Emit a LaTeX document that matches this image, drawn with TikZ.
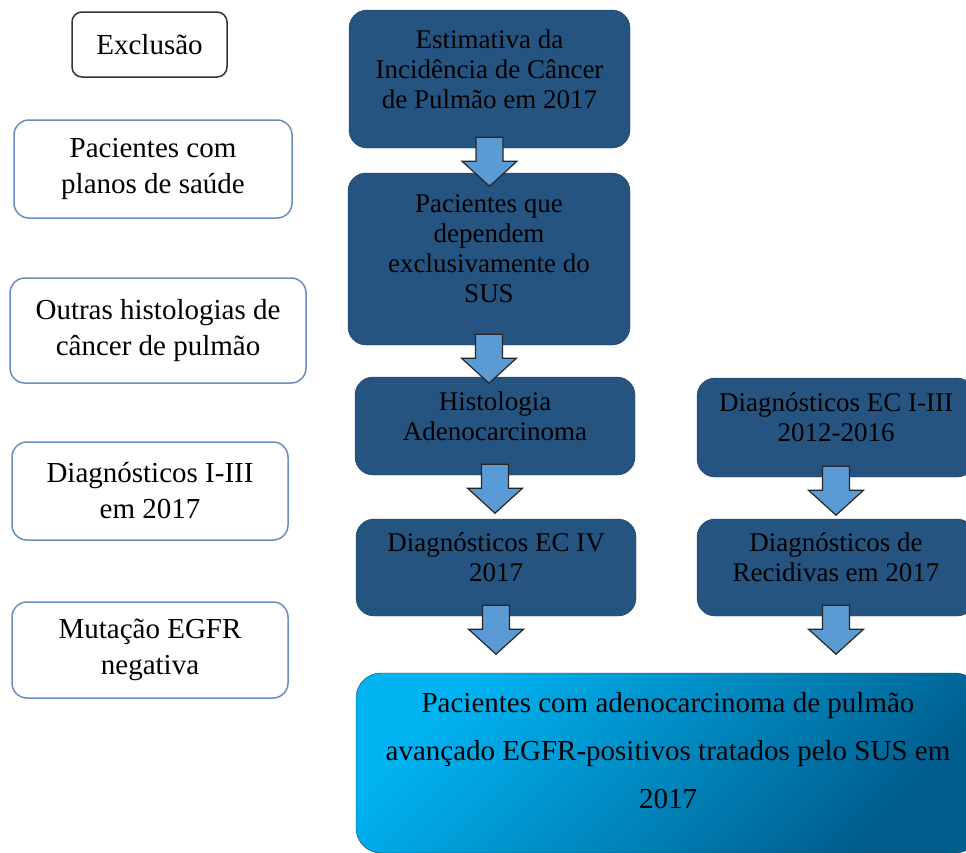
\documentclass[tikz,border=0pt]{standalone}
\usepackage{fontspec}
\setmainfont{Liberation Serif}
\usetikzlibrary{calc}
\definecolor{boxblue}{RGB}{38,84,128}
\definecolor{boxedge}{RGB}{28,60,96}
\definecolor{exedge}{RGB}{104,142,190}
\definecolor{arrowblue}{RGB}{91,155,213}
\definecolor{fimtop}{RGB}{0,180,242}
\definecolor{fimbottom}{RGB}{0,92,140}
\newcommand{\flowarrow}[2]{%
  \coordinate (s) at ($(#1.south)+(0,-11)$);
  \coordinate (t) at ($(s)!49pt!(s |- #2.north)$);
  \draw[blockarrow] ($(s)+(-13.5,0)$) -- ($(t)+(-13.5,-25)$) -- ($(t)+(-27.5,-25)$) -- (t)
    -- ($(t)+(27.5,-25)$) -- ($(t)+(13.5,-25)$) -- ($(s)+(13.5,0)$) -- cycle;}
\begin{document}
\begin{tikzpicture}[x=1pt,y=-1pt,
  darkbox/.style={draw=boxedge,fill=boxblue,rounded corners=18pt,align=center,inner sep=2pt,
    text depth=20pt,font=\fontsize{27}{30}\selectfont},
  exbox/.style={draw=exedge,line width=1.5pt,fill=white,rounded corners=15pt,align=center,
    inner sep=2pt,font=\fontsize{29}{36}\selectfont},
  blockarrow/.style={draw=black!85,line width=1.2pt,fill=arrowblue,line join=miter}]
\useasboundingbox (0,0) rectangle (966,852);
\clip (0,0) rectangle (966,852);
\node[draw=black!80,line width=1.5pt,rounded corners=10pt,minimum width=155pt,minimum height=65pt,
  font=\fontsize{29}{32}\selectfont] (exclusao) at (149.5,44.5) {Exclusão};
\node[exbox,minimum width=278pt,minimum height=98pt] (planos) at (153,169) {Pacientes com\\planos de saúde};
\node[exbox,minimum width=296pt,minimum height=105pt] (histol) at (158,330.5) {Outras histologias de\\câncer de pulmão};
\node[exbox,minimum width=276pt,minimum height=98pt] (estadio) at (150,491) {Diagnósticos I-III\\em 2017};
\node[exbox,minimum width=276pt,minimum height=96pt] (egfrneg) at (150,650) {Mutação EGFR\\negativa};
\node[darkbox,minimum width=281pt,minimum height=138pt] (estim) at (489.5,79) {Estimativa da\\Incidência de Câncer\\de Pulmão em 2017};
\node[darkbox,minimum width=282pt,minimum height=172pt] (depsus) at (489,259) {Pacientes que\\dependem\\exclusivamente do\\SUS};
\node[darkbox,minimum width=280pt,minimum height=98pt] (adeno) at (495,426) {Histologia\\Adenocarcinoma};
\node[darkbox,minimum width=280pt,minimum height=97pt] (ecquatro) at (496,567.5) {Diagnósticos EC IV\\2017};
\node[darkbox,minimum width=278pt,minimum height=99pt] (ecantigos) at (836,427.5) {Diagnósticos EC I-III\\2012-2016};
\node[darkbox,minimum width=278pt,minimum height=97pt] (recidiva) at (836,567.5) {Diagnósticos de\\Recidivas em 2017};
\node[draw=fimbottom!70!black,top color=fimtop,bottom color=fimbottom,shading angle=45,rounded corners=25pt,
  minimum width=624pt,minimum height=180pt,align=center,text depth=26pt,font=\fontsize{29}{48}\selectfont]
  (tratados) at (668,763) {Pacientes com adenocarcinoma de pulmão\\avançado EGFR-positivos tratados pelo SUS em\\2017};
\flowarrow{estim}{depsus}
\flowarrow{depsus}{adeno}
\flowarrow{adeno}{ecquatro}
\flowarrow{ecantigos}{recidiva}
\flowarrow{ecquatro}{tratados}
\flowarrow{recidiva}{tratados}
\end{tikzpicture}
\end{document}
